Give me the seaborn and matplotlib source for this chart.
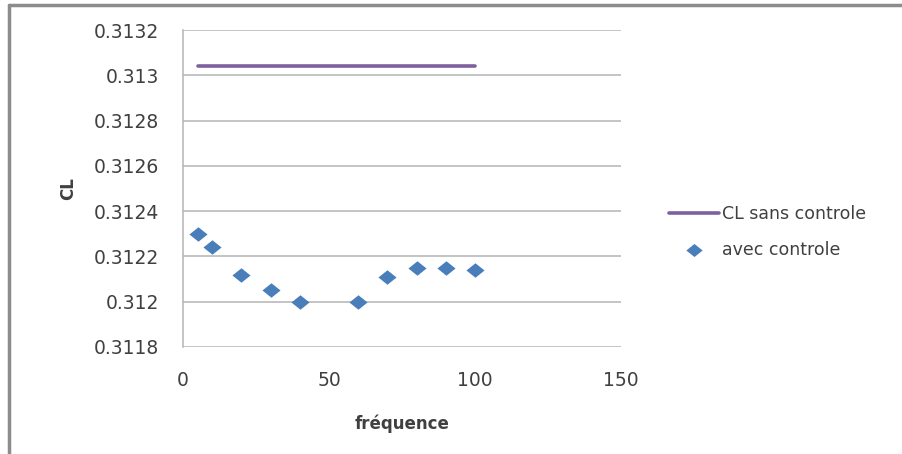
import matplotlib
matplotlib.use("Agg")
import matplotlib.pyplot as plt
from matplotlib.lines import Line2D
from matplotlib.path import Path
import seaborn as sns
import pandas as pd

# Lift coefficient without control (constant reference)
ref_freq = [5, 100]
ref_cl = [0.31304, 0.31304]

# Lift coefficient with control, per actuation frequency
freq = [5, 10, 20, 30, 40, 60, 70, 80, 90, 100]
cl_ctrl = [0.31230, 0.31224, 0.31212, 0.31205, 0.31200, 0.31200,
           0.31211, 0.31215, 0.31215, 0.31214]

yticks = [0.3118, 0.312, 0.3122, 0.3124, 0.3126, 0.3128, 0.313, 0.3132]
ytick_labels = ["0.3118", "0.312", "0.3122", "0.3124", "0.3126", "0.3128", "0.313", "0.3132"]
xticks = [0, 50, 100, 150]

sns.set_theme(style="white")
plt.rcParams["font.family"] = ["DejaVu Sans"]

text_col = "#404040"
fig = plt.figure(figsize=(9.03, 4.54), dpi=100)
ax = fig.add_axes([183 / 903, 1 - 347 / 454, 438 / 903, 317 / 454])

ref_df = pd.DataFrame({"f": ref_freq, "cl": ref_cl})
ctrl_df = pd.DataFrame({"f": freq, "cl": cl_ctrl})

# slightly flattened diamond marker
flat_diamond = Path([(-1, 0), (0, 0.8), (1, 0), (0, -0.8), (-1, 0)],
                    [Path.MOVETO, Path.LINETO, Path.LINETO, Path.LINETO, Path.CLOSEPOLY])

sns.lineplot(data=ref_df, x="f", y="cl", ax=ax, color="#7D60A0", linewidth=2.6,
             label="CL sans controle", zorder=3)
sns.scatterplot(data=ctrl_df, x="f", y="cl", ax=ax, marker=flat_diamond, s=170,
                color="#4A7EBB", edgecolor="#4A7EBB", linewidth=0,
                label="avec controle", zorder=4)

ax.set_xlim(0, 150)
ax.set_ylim(0.3118, 0.3132)
ax.set_yticks(yticks)
ax.set_yticklabels(ytick_labels)
ax.set_xticks(xticks)
ax.tick_params(axis="both", labelsize=13.5, colors=text_col, length=0)
ax.tick_params(axis="y", pad=17)
ax.tick_params(axis="x", pad=17)
ax.grid(axis="y", color="#b4b4b4", linewidth=1.1)
ax.grid(axis="x", visible=False)
for s in ["top", "right", "bottom"]:
    ax.spines[s].set_visible(False)
ax.spines["left"].set_color("#b4b4b4")
ax.spines["left"].set_linewidth(1.1)

ax.set_xlabel("fréquence", fontsize=12, fontweight="bold", color=text_col, labelpad=18)
ax.set_ylabel("CL", fontsize=12, fontweight="bold", color=text_col, labelpad=12)

ax.legend(loc="center left", bbox_to_anchor=(653 / 903, 1 - 232 / 454),
          bbox_transform=fig.transFigure, frameon=False, fontsize=12.5,
          labelcolor=text_col, handlelength=2.9, handletextpad=0.15,
          labelspacing=1.0, markerscale=0.9)

# Outer chart-area frame (left and top edges)
fig.add_artist(Line2D([9 / 903, 9 / 903], [0, 1 - 5 / 454], transform=fig.transFigure,
                      color="#8c8c8c", linewidth=2.5))
fig.add_artist(Line2D([9 / 903, 1], [1 - 5 / 454, 1 - 5 / 454], transform=fig.transFigure,
                      color="#8c8c8c", linewidth=2.5))

fig.savefig("out.png", dpi=100)
